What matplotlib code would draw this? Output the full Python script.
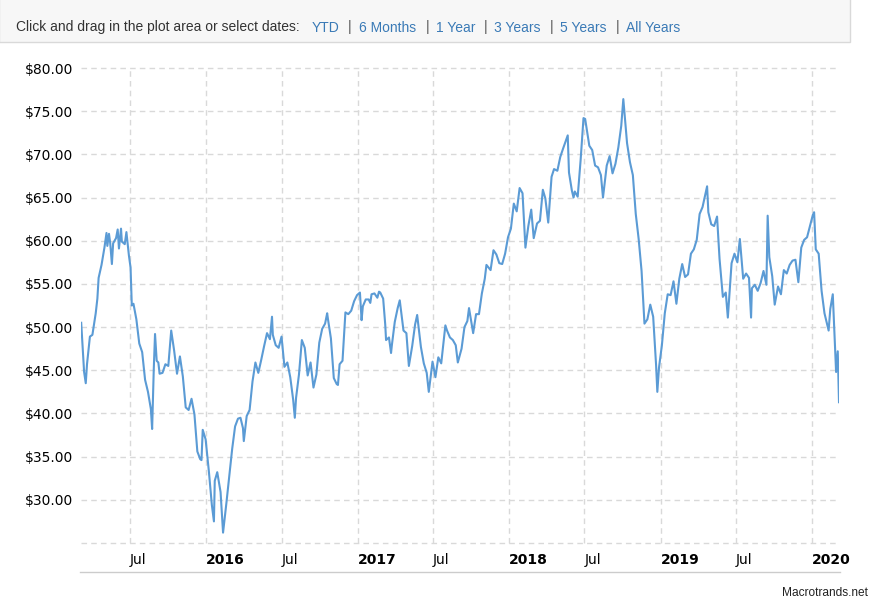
import matplotlib as mplt
mplt.use('Agg')
import numpy as np
import pandas as pd
import matplotlib.pyplot as plt
import matplotlib.transforms as mtrans
from matplotlib.patches import Rectangle
from matplotlib.lines import Line2D

# WTI crude oil price (weekly-ish, plus local highs/lows)
dates_2015 = ['2015-03-06', '2015-03-13', '2015-03-17', '2015-03-20', '2015-03-27', '2015-04-02',
              '2015-04-10', '2015-04-14', '2015-04-17', '2015-04-24', '2015-05-01', '2015-05-06',
              '2015-05-08', '2015-05-12', '2015-05-15', '2015-05-19', '2015-05-22', '2015-05-29',
              '2015-06-02', '2015-06-05', '2015-06-10', '2015-06-12', '2015-06-19', '2015-06-23',
              '2015-06-26', '2015-06-29', '2015-07-03', '2015-07-06', '2015-07-10', '2015-07-17',
              '2015-07-24', '2015-07-31', '2015-08-07', '2015-08-14', '2015-08-21', '2015-08-24',
              '2015-08-28', '2015-08-31', '2015-09-04', '2015-09-08', '2015-09-11', '2015-09-18',
              '2015-09-25', '2015-10-02', '2015-10-09', '2015-10-16', '2015-10-23', '2015-10-30',
              '2015-11-06', '2015-11-13', '2015-11-20', '2015-11-27', '2015-12-04', '2015-12-11',
              '2015-12-18', '2015-12-21', '2015-12-24', '2015-12-31']
prices_2015 = [50.5, 44.8, 43.5, 45.7, 48.9, 49.1,
               51.6, 53.3, 55.7, 57.2, 59.2, 60.9,
               59.4, 60.8, 59.7, 57.3, 59.7, 60.3,
               61.3, 59.1, 61.4, 59.9, 59.6, 61.0,
               59.6, 58.3, 56.9, 52.5, 52.7, 50.9,
               48.1, 47.1, 43.9, 42.5, 40.5, 38.2,
               45.2, 49.2, 46.1, 45.9, 44.6, 44.7,
               45.7, 45.5, 49.6, 47.3, 44.6, 46.6,
               44.3, 40.7, 40.4, 41.7, 39.9, 35.6,
               34.7, 34.6, 38.1, 37.0]

dates_2016 = ['2016-01-08', '2016-01-15', '2016-01-20', '2016-01-22', '2016-01-28', '2016-02-05',
              '2016-02-11', '2016-02-19', '2016-02-26', '2016-03-04', '2016-03-11', '2016-03-18',
              '2016-03-24', '2016-03-30', '2016-04-01', '2016-04-08', '2016-04-15', '2016-04-22',
              '2016-04-29', '2016-05-06', '2016-05-13', '2016-05-20', '2016-05-27', '2016-06-03',
              '2016-06-08', '2016-06-10', '2016-06-17', '2016-06-24', '2016-07-01', '2016-07-08',
              '2016-07-15', '2016-07-22', '2016-07-29', '2016-08-02', '2016-08-05', '2016-08-12',
              '2016-08-19', '2016-08-26', '2016-09-02', '2016-09-09', '2016-09-16', '2016-09-23',
              '2016-09-30', '2016-10-07', '2016-10-14', '2016-10-19', '2016-10-21', '2016-10-28',
              '2016-11-04', '2016-11-11', '2016-11-14', '2016-11-18', '2016-11-25', '2016-12-02',
              '2016-12-09', '2016-12-16', '2016-12-23', '2016-12-30']
prices_2016 = [33.2, 29.4, 27.5, 32.2, 33.2, 30.9,
               26.2, 29.6, 32.8, 35.9, 38.5, 39.4,
               39.5, 38.3, 36.8, 39.7, 40.4, 43.7,
               45.9, 44.7, 46.2, 47.8, 49.3, 48.6,
               51.2, 49.1, 47.9, 47.6, 48.9, 45.4,
               45.9, 44.2, 41.6, 39.5, 41.8, 44.5,
               48.5, 47.6, 44.4, 45.9, 43.0, 44.5,
               48.2, 49.8, 50.4, 51.6, 50.9, 48.7,
               44.1, 43.4, 43.3, 45.7, 46.1, 51.7,
               51.5, 51.9, 53.0, 53.7]

dates_2017 = ['2017-01-06', '2017-01-10', '2017-01-13', '2017-01-20', '2017-01-27', '2017-01-31',
              '2017-02-03', '2017-02-10', '2017-02-17', '2017-02-21', '2017-02-24', '2017-03-03',
              '2017-03-08', '2017-03-10', '2017-03-17', '2017-03-22', '2017-03-24', '2017-03-31',
              '2017-04-07', '2017-04-12', '2017-04-21', '2017-04-28', '2017-05-04', '2017-05-12',
              '2017-05-19', '2017-05-24', '2017-06-02', '2017-06-09', '2017-06-16', '2017-06-21',
              '2017-06-30', '2017-07-07', '2017-07-14', '2017-07-21', '2017-07-31', '2017-08-04',
              '2017-08-11', '2017-08-18', '2017-08-25', '2017-08-30', '2017-09-08', '2017-09-15',
              '2017-09-22', '2017-09-26', '2017-10-06', '2017-10-13', '2017-10-20', '2017-10-27',
              '2017-11-03', '2017-11-07', '2017-11-17', '2017-11-24', '2017-12-01', '2017-12-08',
              '2017-12-15', '2017-12-22', '2017-12-29']
prices_2017 = [54.0, 50.8, 52.4, 53.2, 53.2, 52.8,
               53.8, 53.9, 53.4, 54.1, 54.0, 53.3,
               50.3, 48.5, 48.8, 47.0, 47.9, 50.6,
               52.2, 53.1, 49.6, 49.3, 45.5, 47.8,
               50.3, 51.4, 47.7, 45.8, 44.7, 42.5,
               46.0, 44.2, 46.5, 45.8, 50.2, 49.6,
               48.8, 48.5, 47.9, 45.9, 47.5, 50.0,
               50.7, 52.2, 49.3, 51.5, 51.5, 53.9,
               55.6, 57.2, 56.6, 58.9, 58.4, 57.4,
               57.3, 58.5, 60.4]

dates_2018 = ['2018-01-05', '2018-01-12', '2018-01-19', '2018-01-26', '2018-02-02', '2018-02-09',
              '2018-02-16', '2018-02-23', '2018-03-01', '2018-03-09', '2018-03-16', '2018-03-23',
              '2018-03-29', '2018-04-05', '2018-04-13', '2018-04-19', '2018-04-27', '2018-05-04',
              '2018-05-11', '2018-05-22', '2018-05-25', '2018-06-01', '2018-06-05', '2018-06-08',
              '2018-06-15', '2018-06-22', '2018-06-29', '2018-07-03', '2018-07-13', '2018-07-20',
              '2018-07-27', '2018-08-03', '2018-08-10', '2018-08-15', '2018-08-24', '2018-08-31',
              '2018-09-07', '2018-09-14', '2018-09-21', '2018-09-28', '2018-10-03', '2018-10-12',
              '2018-10-19', '2018-10-26', '2018-11-02', '2018-11-09', '2018-11-16', '2018-11-23',
              '2018-11-30', '2018-12-07', '2018-12-14', '2018-12-21', '2018-12-24', '2018-12-28']
prices_2018 = [61.4, 64.3, 63.4, 66.1, 65.5, 59.2,
               61.7, 63.6, 60.3, 62.0, 62.3, 65.9,
               64.9, 62.1, 67.4, 68.3, 68.1, 69.7,
               70.7, 72.2, 67.9, 65.8, 65.0, 65.7,
               65.1, 69.3, 74.2, 74.1, 71.0, 70.5,
               68.7, 68.5, 67.6, 65.0, 68.7, 69.8,
               67.8, 68.9, 70.8, 73.3, 76.4, 71.3,
               69.1, 67.6, 63.1, 60.2, 56.5, 50.4,
               50.9, 52.6, 51.2, 45.6, 42.5, 45.3]

dates_2019 = ['2019-01-04', '2019-01-11', '2019-01-18', '2019-01-25', '2019-02-01', '2019-02-08',
              '2019-02-15', '2019-02-22', '2019-03-01', '2019-03-08', '2019-03-15', '2019-03-22',
              '2019-03-29', '2019-04-05', '2019-04-12', '2019-04-23', '2019-04-26', '2019-05-03',
              '2019-05-10', '2019-05-17', '2019-05-23', '2019-05-31', '2019-06-07', '2019-06-12',
              '2019-06-14', '2019-06-21', '2019-06-28', '2019-07-05', '2019-07-11', '2019-07-19',
              '2019-07-26', '2019-08-02', '2019-08-07', '2019-08-09', '2019-08-16', '2019-08-23',
              '2019-08-30', '2019-09-06', '2019-09-13', '2019-09-16', '2019-09-20', '2019-09-27',
              '2019-10-03', '2019-10-11', '2019-10-18', '2019-10-25', '2019-11-01', '2019-11-08',
              '2019-11-15', '2019-11-22', '2019-11-29', '2019-12-06', '2019-12-13', '2019-12-20',
              '2019-12-27']
prices_2019 = [47.9, 51.6, 53.8, 53.7, 55.3, 52.7,
               55.6, 57.3, 55.8, 56.1, 58.5, 59.0,
               60.1, 63.1, 63.9, 66.3, 63.3, 61.9,
               61.7, 62.8, 57.9, 53.5, 54.0, 51.1,
               52.5, 57.4, 58.5, 57.5, 60.2, 55.6,
               56.2, 55.7, 51.1, 54.5, 54.9, 54.2,
               55.1, 56.5, 54.9, 62.9, 58.1, 55.9,
               52.6, 54.7, 53.8, 56.6, 56.2, 57.2,
               57.7, 57.8, 55.2, 59.2, 60.1, 60.4,
               61.7]

dates_2020 = ['2020-01-03', '2020-01-06', '2020-01-10', '2020-01-17', '2020-01-24', '2020-01-31',
              '2020-02-10', '2020-02-14', '2020-02-20', '2020-02-28', '2020-03-03', '2020-03-06']
prices_2020 = [63.0, 63.3, 59.0, 58.5, 54.2, 51.6,
               49.6, 52.1, 53.8, 44.8, 47.2, 41.3]

y_ticks = [25, 30, 35, 40, 45, 50, 55, 60, 65, 70, 75, 80]
x_tick_dates = ['2015-07-01', '2016-01-01', '2016-07-01', '2017-01-01', '2017-07-01',
                '2018-01-01', '2018-07-01', '2019-01-01', '2019-07-01', '2020-01-01']
x_tick_labels = ['Jul', '2016', 'Jul', '2017', 'Jul', '2018', 'Jul', '2019', 'Jul', '2020']

header_text = 'Click and drag in the plot area or select dates:'
range_links = ['YTD', '6 Months', '1 Year', '3 Years', '5 Years', 'All Years']


def main():
    dates = pd.to_datetime(dates_2015 + dates_2016 + dates_2017 + dates_2018 + dates_2019 + dates_2020)
    prices = np.array(prices_2015 + prices_2016 + prices_2017 + prices_2018 + prices_2019 + prices_2020)

    W, H = 881, 606
    fig = plt.figure(figsize=(W / 100, H / 100), dpi=100)

    # plot box in pixels: x 81..839, y 68..543 (from top)
    left, right, top, bottom = 81.2, 839.0, 68.0, 543.0
    ax = fig.add_axes([left / W, 1 - bottom / H, (right - left) / W, (bottom - top) / H])

    ax.plot(dates, prices, color='#5b9bd5', lw=1.5, solid_joinstyle='round', zorder=3)

    ax.set_xlim(pd.Timestamp('2015-03-06'), pd.Timestamp('2020-03-06'))
    ax.set_ylim(25, 80)

    ax.set_yticks(y_ticks)
    ax.set_yticklabels(['' if v == 25 else '${:.2f}'.format(v) for v in y_ticks])
    ax.set_xticks(pd.to_datetime(x_tick_dates))
    ax.set_xticklabels(x_tick_labels, ha='left')

    shift = mtrans.ScaledTranslation(3 / 100, 0, fig.dpi_scale_trans)
    for lab in ax.get_xticklabels():
        lab.set_transform(lab.get_transform() + shift)
        if lab.get_text() != 'Jul':
            lab.set_fontweight('bold')

    ax.tick_params('both', length=0, labelsize=10, colors='black')
    ax.tick_params('x', pad=7)
    ax.tick_params('y', pad=6)

    for s in ax.spines.values():
        s.set_visible(False)
    ax.grid(True, color='#d9d9d9', lw=1, ls=(0, (4, 3)))
    for gl in ax.get_xgridlines() + ax.get_ygridlines():
        gl.set_clip_on(False)
    ax.set_axisbelow(True)

    # x axis baseline below the labels
    fig.add_artist(Line2D([80 / W, 840 / W], [1 - 572 / H, 1 - 572 / H],
                          color='#cccccc', lw=1, transform=fig.transFigure))

    # header box with range selector
    fig.add_artist(Rectangle((-1 / W, 1 - 42 / H), 851 / W, 44 / H, transform=fig.transFigure,
                             facecolor='#f7f7f7', edgecolor='#d9d9d9', lw=1))
    hy = 1 - 27.5 / H
    hfont = dict(family='Liberation Sans', size=10.0, va='center', transform=fig.transFigure)
    fig.text(16 / W, hy, header_text, color='#333333', **hfont)
    link_x = [312, 359, 436, 494, 560, 626]
    sep_x = [348, 426, 484, 550, 616]
    for x, lab in zip(link_x, range_links):
        fig.text(x / W, hy, lab, color='#3a7ab6', **hfont)
    for x in sep_x:
        fig.text(x / W, hy, '|', color='#555555', **hfont)

    fig.text(868 / W, 1 - 593 / H, 'Macrotrands.net', family='Liberation Sans', size=8.6,
             color='#222222', ha='right', va='center')

    fig.savefig('out.png', dpi=100)


if __name__ == '__main__':
    main()
